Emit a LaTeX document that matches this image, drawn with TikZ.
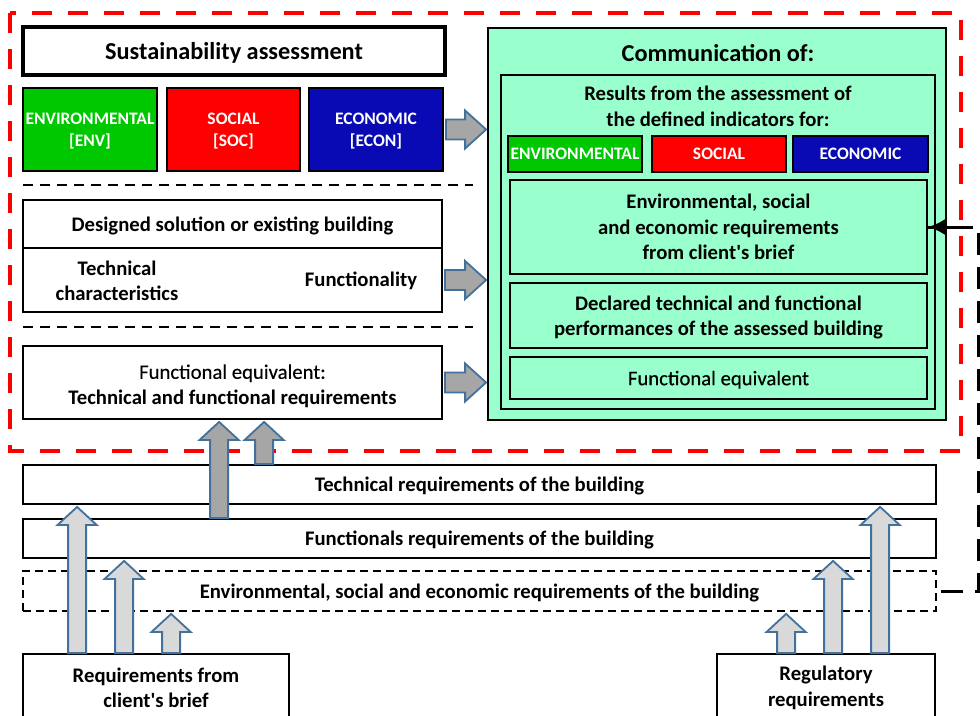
\documentclass[tikz,border=0pt]{standalone}
\usepackage{fontspec}
\setmainfont{Carlito}[Ligatures=TeXOff]
\newfontfamily\mediumfamily{Carlito}[Ligatures=TeXOff, FakeBold=0.3]
\usetikzlibrary{arrows.meta,calc}

\definecolor{envg}{RGB}{0,200,0}
\definecolor{socr}{RGB}{255,0,0}
\definecolor{econb}{RGB}{10,10,180}
\definecolor{mint}{RGB}{153,255,204}
\definecolor{arrowedge}{RGB}{65,113,156}
\definecolor{darkfill}{RGB}{166,166,166}
\definecolor{lightfill}{RGB}{217,217,217}

\newcommand\bodyfont{\fontsize{20.7}{25.5}\selectfont\bfseries}
\newcommand\plainfont{\fontsize{20.7}{25.5}\selectfont\mediumfamily\mdseries}
\newcommand\headfont{\fontsize{24.3}{28}\selectfont\bfseries}
\newcommand\tagfont{\fontsize{17.5}{22}\selectfont\bfseries}

% right-pointing block arrow: #1 start anchor, #2 anchor whose x is the tip
\newcommand\rarrow[2]{%
  \draw[blockarrow, fill=darkfill] let \p1=#1, \p2=#2 in
    (\x1+2pt,\y1+10pt) -- (\x2-22pt,\y1+10pt) -- (\x2-22pt,\y1+19pt) --
    (\x2-1pt,\y1) -- (\x2-22pt,\y1-19pt) -- (\x2-22pt,\y1-10pt) --
    (\x1+2pt,\y1-10pt) -- cycle;}
% upward block arrow: #1 fill, #2 base point, #3 anchor whose y is the tip
\newcommand\uarrow[3]{%
  \draw[blockarrow, fill=#1] let \p1=#2, \p2=#3 in
    (\x1-9pt,\y1) -- (\x1-9pt,\y2-20pt) -- (\x1-19.5pt,\y2-20pt) --
    (\x1,\y2-2pt) -- (\x1+19.5pt,\y2-20pt) -- (\x1+9pt,\y2-20pt) --
    (\x1+9pt,\y1) -- cycle;}

\tikzset{
  box/.style={draw, line width=1.8pt, inner sep=0pt, align=center, font=\bodyfont, fill=white, text depth=0pt},
  tag/.style={draw, line width=1.8pt, inner sep=0pt, align=center, font=\tagfont, text=white, text depth=0pt},
  panelbox/.style={draw, line width=1.8pt, inner sep=0pt, fill=mint, align=center, font=\bodyfont, text depth=0pt},
  label/.style={inner sep=0pt, align=center, font=\bodyfont},
  blockarrow/.style={draw=arrowedge, line width=1.8pt, line join=miter},
  redframe/.style={draw=socr, line width=4pt, dash pattern=on 20pt off 16pt},
  separator/.style={draw, line width=1.8pt, dash pattern=on 10pt off 7pt},
  feedback/.style={draw, line width=3pt, dash pattern=on 22pt off 12pt},
  feedbacktip/.style={draw, line width=3pt, -{Latex[length=17pt,width=16pt]}},
}

\begin{document}
\begin{tikzpicture}[x=1pt, y=-1pt]
\useasboundingbox (0,0) rectangle (980,715);

% dashed frame around the assessment part
\draw[redframe] (10,13) rectangle (961,451);

% ---- assessment column ----
\node[box, line width=3.5pt, minimum width=422, minimum height=48, font=\headfont]
  (sust) at (234,51) {Sustainability assessment};
\node[tag, fill=envg, minimum width=134, minimum height=83] (env) at (90,129.5) {ENVIRONMENTAL\\{}[ENV]};
\node[tag, fill=socr, minimum width=133, minimum height=83] (soc) at (233.5,129.5) {SOCIAL\\{}[SOC]};
\node[tag, fill=econb, minimum width=134, minimum height=83] (econ) at (376,129.5) {ECONOMIC\\{}[ECON]};

\draw[separator] (23,185) -- (473,185);

\node[box, minimum width=419, minimum height=48] (design) at (232.5,224) {Designed solution or existing building};
\node[box, minimum width=419, minimum height=64] (charac) at (232.5,280) {};
\node[label] (techc) at (117,281) {Technical\\characteristics};
\node[label] (funct) at (361,281) {Functionality};

\draw[separator] (23,327) -- (473,327);

\node[box, minimum width=419, minimum height=73] (fe) at (232.5,382.5) {};
\node[label] (fetxt) at (232.5,386) {{\plainfont Functional equivalent:}\\Technical and functional requirements};

% ---- communication panel ----
\node[panelbox, minimum width=458, minimum height=392] (panel) at (717,224) {};
\node[panelbox, minimum width=434, minimum height=334] (inner) at (718,242) {};
\node[label, font=\headfont] (commtitle) at (718,53) {Communication of:};
\node[label] (results) at (718,106.5) {Results from the assessment of\\the defined indicators for:};
\node[tag, fill=envg, minimum width=134, minimum height=36] (env2) at (575,154) {ENVIRONMENTAL};
\node[tag, fill=socr, minimum width=134, minimum height=36] (soc2) at (719,154) {SOCIAL};
\node[tag, fill=econb, minimum width=135, minimum height=36] (econ2) at (860.5,154) {ECONOMIC};
\node[panelbox, minimum width=417, minimum height=94] (brief) at (718.5,227)
  {Environmental, social\\and economic requirements\\from client's brief};
\node[panelbox, minimum width=417, minimum height=65] (declared) at (718.5,315.5)
  {Declared technical and functional\\performances of the assessed building};
\node[panelbox, minimum width=417, minimum height=42, font=\plainfont] (fe2) at (718.5,378) {Functional equivalent};

% ---- requirement layers ----
\node[box, minimum width=913, minimum height=39] (techreq) at (479.5,484.5) {Technical requirements of the building};
\node[box, minimum width=913, minimum height=39] (funcreq) at (479.5,538.5) {Functionals requirements of the building};
\node[box, dash pattern=on 8pt off 5pt, minimum width=913, minimum height=40] (envreq) at (479.5,591)
  {Environmental, social and economic requirements of the building};

\node[box, minimum width=266, minimum height=80] (client) at (156,694) {};
\node[label] (clienttxt) at (156,688) {Requirements from\\client's brief};
\node[box, minimum width=218, minimum height=80] (regul) at (826,694) {};
\node[label] (regultxt) at (826,688) {Regulatory\\requirements};

% ---- block arrows ----
\rarrow{(econ.east)}{(panel.west)}
\rarrow{(charac.east)}{(panel.west)}
\rarrow{(fe.east)}{(panel.west)}

\uarrow{darkfill}{($(funcreq.north west)+(197,0)$)}{(fe.south)}
\uarrow{darkfill}{($(techreq.north west)+(242,0)$)}{(fe.south)}

\uarrow{lightfill}{($(client.north west)+(55,0)$)}{(techreq.south)}
\uarrow{lightfill}{($(client.north west)+(102,0)$)}{(funcreq.south)}
\uarrow{lightfill}{($(client.north west)+(149,0)$)}{(envreq.south)}
\uarrow{lightfill}{($(regul.north west)+(70,0)$)}{(envreq.south)}
\uarrow{lightfill}{($(regul.north west)+(117,0)$)}{(funcreq.south)}
\uarrow{lightfill}{($(regul.north west)+(164,0)$)}{(techreq.south)}

% feedback of the brief requirements into the communication panel
\draw[feedback, shorten <=4pt] (envreq.east) -- ++(42,0) |- (brief.east);
\draw[feedbacktip] ($(brief.east)+(34,0)$) -- (brief.east);

\end{tikzpicture}
\end{document}
